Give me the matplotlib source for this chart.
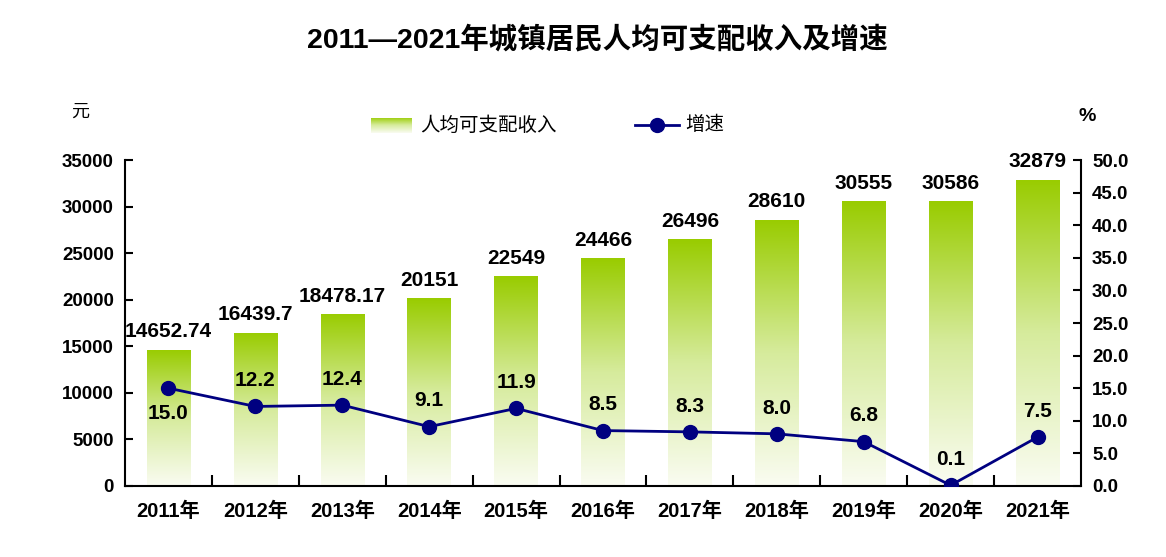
import matplotlib.pyplot as plt
import numpy as np
from matplotlib.colors import LinearSegmentedColormap
from matplotlib.patches import Rectangle
from matplotlib.lines import Line2D

plt.rcParams['font.family'] = ['Liberation Sans', 'Noto Sans CJK SC', 'DejaVu Sans']
plt.rcParams['font.weight'] = 'bold'

# data
years = ['2011年', '2012年', '2013年', '2014年', '2015年', '2016年',
         '2017年', '2018年', '2019年', '2020年', '2021年']
income = [14652.74, 16439.7, 18478.17, 20151, 22549, 24466, 26496, 28610, 30555, 30586, 32879]
income_labels = ['14652.74', '16439.7', '18478.17', '20151', '22549', '24466',
                 '26496', '28610', '30555', '30586', '32879']
growth = [15.0, 12.2, 12.4, 9.1, 11.9, 8.5, 8.3, 8.0, 6.8, 0.1, 7.5]

green = '#99CC00'
navy = '#000080'
cmap = LinearSegmentedColormap.from_list('g', ['#FAFCF2', '#D6EB9C', green])

fig = plt.figure(figsize=(11.66, 5.57), dpi=100)
ax = fig.add_axes([0.1072, 0.1275, 0.8199, 0.5852])
ax2 = ax.twinx()

x = np.arange(len(years))
w = 0.5
grad = np.linspace(0, 1, 256).reshape(-1, 1)
for xi, h, lab in zip(x, income, income_labels):
    im = ax.imshow(grad, cmap=cmap, origin='lower', aspect='auto',
                   extent=[xi - w / 2, xi + w / 2, 0, h], zorder=2)
    rect = Rectangle((xi - w / 2, 0), w, h, transform=ax.transData)
    im.set_clip_path(rect)
    ax.text(xi, h + 900, lab, ha='center', va='bottom', fontsize=15, fontweight='bold')

ax.set_xlim(-0.5, len(years) - 0.5)
ax.set_ylim(0, 35000)
ax.set_yticks(np.arange(0, 35001, 5000))
ax.set_xticks(x)
ax.set_xticklabels(years, fontsize=14.5, fontweight='bold')
ax.set_xticks(np.arange(0.5, len(years) - 1, 1), minor=True)
ax.tick_params(axis='x', which='major', length=0, pad=11)
ax.tick_params(axis='x', which='minor', direction='in', length=8, width=1.5)
ax.tick_params(axis='y', direction='in', length=6, width=1.5, labelsize=13.5, pad=8)
for lab in ax.get_yticklabels():
    lab.set_fontweight('bold')

ax2.plot(x, growth, color=navy, lw=2, marker='o', ms=10, zorder=5)
ax2.set_ylim(0, 50)
ax2.set_yticks(np.arange(0, 50.1, 5))
ax2.set_yticklabels([f'{v:.1f}' for v in np.arange(0, 50.1, 5)])
ax2.tick_params(axis='y', direction='in', length=6, width=1.5, labelsize=13.5, pad=8)
for lab in ax2.get_yticklabels():
    lab.set_fontweight('bold')

for xi, g in zip(x, growth):
    if xi == 0:
        ax2.text(xi, g - 2.5, f'{g:.1f}', ha='center', va='top', fontsize=15, fontweight='bold')
    else:
        ax2.text(xi, g + 2.5, f'{g:.1f}', ha='center', va='bottom', fontsize=15, fontweight='bold')

for a in (ax, ax2):
    a.spines['top'].set_visible(False)
    for s in ('left', 'right', 'bottom'):
        a.spines[s].set_linewidth(1.5)
ax.spines['right'].set_visible(False)
ax2.spines['left'].set_visible(False)
ax2.spines['bottom'].set_visible(False)

fig.text(0.512, 0.928, '2011—2021年城镇居民人均可支配收入及增速', ha='center', va='center',
         fontsize=20.5, fontweight='bold')
fig.text(0.069, 0.798, '元', ha='center', va='center', fontsize=13, fontweight='normal')
fig.text(0.932, 0.79, '%', ha='center', va='center', fontsize=14, fontweight='bold')

# legend
lg_im = fig.add_axes([0.318, 0.761, 0.035, 0.028])
lg_im.imshow(grad, cmap=cmap, origin='lower', aspect='auto')
lg_im.axis('off')
fig.text(0.360, 0.775, '人均可支配收入', ha='left', va='center', fontsize=14, fontweight='normal')
fig.add_artist(Line2D([0.545, 0.582], [0.775, 0.775], transform=fig.transFigure,
                      color=navy, lw=2))
fig.add_artist(Line2D([0.5635], [0.775], transform=fig.transFigure,
                      color=navy, marker='o', ms=10))
fig.text(0.588, 0.775, '增速', ha='left', va='center', fontsize=14, fontweight='normal')

fig.savefig('out.png', dpi=100)
